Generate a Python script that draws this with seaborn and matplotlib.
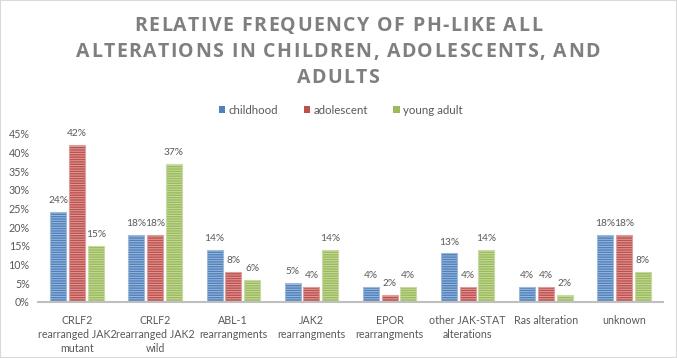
import numpy as np
import pandas as pd
import matplotlib
matplotlib.use("Agg")
import matplotlib.pyplot as plt
from matplotlib.patches import Patch, Rectangle
from matplotlib.colors import to_rgb
import seaborn as sns

categories = [
    "CRLF2\nrearranged JAK2\nmutant",
    "CRLF2\nrearranged JAK2\nwild",
    "ABL-1\nrearrangments",
    "JAK2\nrearrangments",
    "EPOR\nrearrangments",
    "other JAK-STAT\nalterations",
    "Ras alteration",
    "unknown",
]
groups = ["childhood", "adolescent", "young adult"]
childhood = [24, 18, 14, 5, 4, 13, 4, 18]
adolescent = [42, 18, 8, 4, 2, 4, 4, 18]
young_adult = [15, 37, 6, 14, 4, 14, 2, 8]
yticks = [0, 5, 10, 15, 20, 25, 30, 35, 40, 45]
title_lines = ["RELATIVE FREQUENCY OF PH-LIKE ALL",
               "ALTERATIONS IN CHILDREN, ADOLESCENTS, AND",
               "ADULTS"]

colors = ["#4F81BD", "#C0504D", "#9BBB59"]
text_col = "#595959"

df = pd.DataFrame({
    "category": categories * 3,
    "group": [g for g in groups for _ in categories],
    "value": childhood + adolescent + young_adult,
})

sns.set_style("white")
plt.rcParams["font.family"] = ["Lato", "DejaVu Sans"]
plt.rcParams["hatch.linewidth"] = 0.7

W, H = 677, 358
fig = plt.figure(figsize=(W / 100, H / 100), dpi=100)
ax = fig.add_axes([38 / W, 1 - 302 / H, 625 / W, 168 / H])

sns.barplot(data=df, x="category", y="value", hue="group", palette=colors,
            width=0.72, gap=0.15, ax=ax, legend=False)


def lighten(c, f):
    r, g, b = to_rgb(c)
    return (r + (1 - r) * f, g + (1 - g) * f, b + (1 - b) * f)


for cont, col in zip(ax.containers, colors):
    for bar in cont:
        bar.set_facecolor(col)
        bar.set_edgecolor(lighten(col, 0.45))
        bar.set_hatch("-------")
        bar.set_linewidth(0.8)
    vals = [int(round(b.get_height())) for b in cont]
    ax.bar_label(cont, labels=[f"{v}%" for v in vals], padding=5,
                 fontsize=7.3, color=text_col)

ax.set_ylim(0, 45)
ax.set_xlim(-0.5, len(categories) - 0.5)
ax.set_yticks(yticks)
ax.set_yticklabels([f"{t}%" for t in yticks])
ax.set_xlabel("")
ax.set_ylabel("")
ax.tick_params(axis="both", length=0, labelsize=7.7, labelcolor=text_col)
ax.tick_params(axis="y", pad=6)
ax.tick_params(axis="x", pad=9)
for lab in ax.get_xticklabels():
    lab.set_linespacing(1.35)
for s in ["top", "right", "left"]:
    ax.spines[s].set_visible(False)
ax.spines["bottom"].set_color("#BFBFBF")
ax.spines["bottom"].set_linewidth(1.5)

handles = [Patch(facecolor=c, edgecolor="none") for c in colors]
fig.legend(handles, groups, loc="center", bbox_to_anchor=(341 / W, 1 - 110 / H),
           ncol=3, frameon=False, fontsize=8.3, labelcolor=text_col,
           handlelength=0.55, handleheight=0.55, handletextpad=0.3, columnspacing=2.2)

# title with letter spacing: place each character
renderer = fig.canvas.get_renderer()
tracking = 1.4
tkw = dict(fontsize=14, fontweight="bold", color="#7F7F7F",
           family=["Open Sans", "DejaVu Sans"], va="baseline", ha="left")
for k, line in enumerate(title_lines):
    y = 1 - (31 + 26 * k) / H
    widths = []
    for ch in line:
        t = fig.text(0, 0, ch if ch != " " else "a a", **tkw)
        w = t.get_window_extent(renderer).width
        if ch == " ":
            t2 = fig.text(0, 0, "aa", **tkw)
            w -= t2.get_window_extent(renderer).width
            t2.remove()
        widths.append(w)
        t.remove()
    total = sum(widths) + tracking * (len(line) - 1)
    x = 338 - total / 2
    for ch, w in zip(line, widths):
        if ch != " ":
            fig.text(x / W, y, ch, **tkw)
        x += w + tracking

fig.patches.append(Rectangle((0, 0), 1, 1, transform=fig.transFigure, fill=False,
                             edgecolor="#D9D9D9", linewidth=1.5))

fig.savefig("out.png", dpi=100)
